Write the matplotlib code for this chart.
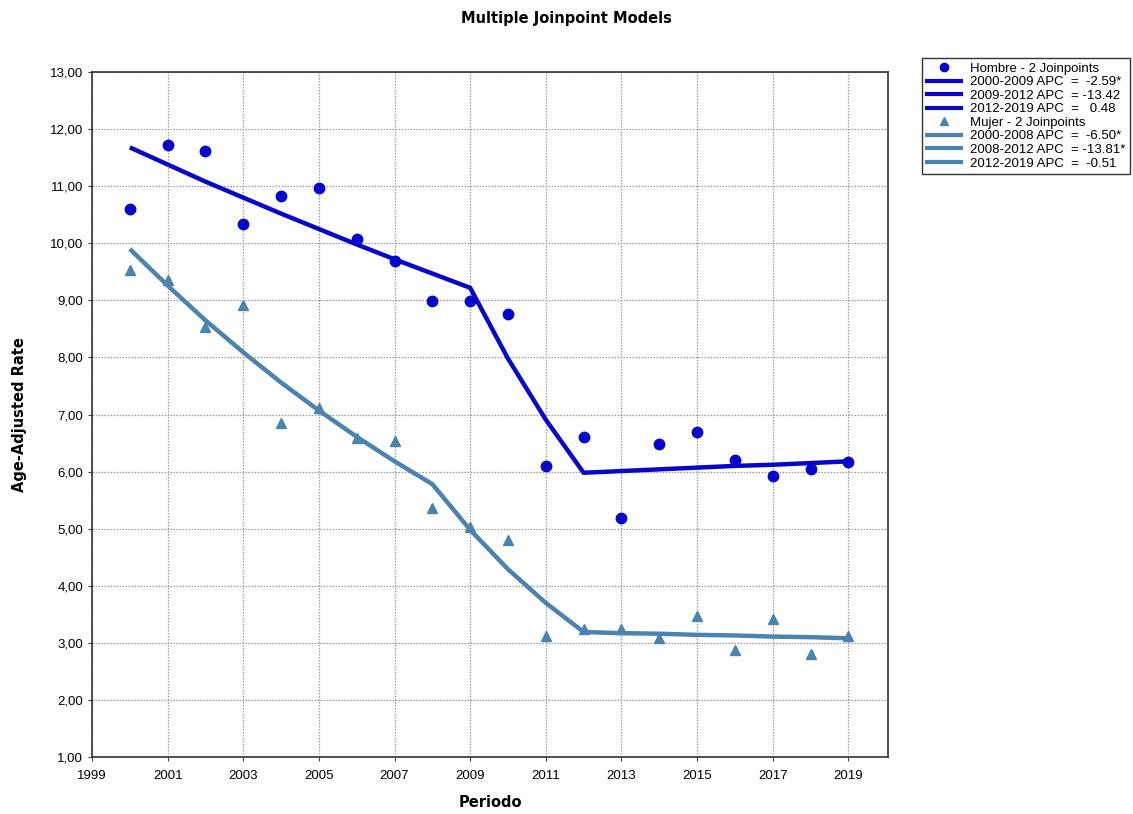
import numpy as np
from matplotlib import pyplot as plt
from matplotlib.lines import Line2D
from matplotlib.ticker import FuncFormatter

years = list(range(2000, 2020))

# observed age-adjusted rates
hombre_obs = [10.60, 11.73, 11.62, 10.34, 10.83, 10.97, 10.07, 9.69, 8.99, 8.99,
              8.76, 6.10, 6.61, 5.19, 6.48, 6.70, 6.20, 5.92, 6.05, 6.16]
mujer_obs = [9.53, 9.36, 8.53, 8.92, 6.86, 7.12, 6.59, 6.54, 5.36, 5.03,
             4.81, 3.12, 3.25, 3.25, 3.09, 3.47, 2.88, 3.42, 2.81, 3.12]

# joinpoint fitted values
hombre_fit = [11.68, 11.38, 11.08, 10.80, 10.52, 10.25, 9.98, 9.72, 9.47, 9.22,
              7.98, 6.91, 5.98, 6.01, 6.04, 6.07, 6.10, 6.12, 6.15, 6.18]
mujer_fit = [9.90, 9.26, 8.65, 8.09, 7.56, 7.07, 6.61, 6.18, 5.78, 4.98,
             4.29, 3.70, 3.19, 3.17, 3.16, 3.14, 3.13, 3.11, 3.10, 3.08]

hombre_labels = ["Hombre - 2 Joinpoints", "2000-2009 APC  =  -2.59*",
                 "2009-2012 APC  = -13.42", "2012-2019 APC  =   0.48"]
mujer_labels = ["Mujer - 2 Joinpoints", "2000-2008 APC  =  -6.50*",
                "2008-2012 APC  = -13.81*", "2012-2019 APC  =  -0.51"]

c_h = '#0606cc'
c_m = '#4a82b0'

plt.rcParams['font.family'] = ['Liberation Sans', 'DejaVu Sans']

fig = plt.figure(figsize=(11.33, 8.14), dpi=100)
ax = fig.add_axes([0.0812, 0.070, 0.7026, 0.8415])

ax.plot(years, hombre_fit, color=c_h, lw=3.2, solid_capstyle='butt', zorder=3)
ax.plot(years, mujer_fit, color=c_m, lw=3.2, solid_capstyle='butt', zorder=3)
ax.plot(years, hombre_obs, 'o', color=c_h, ms=7.5, ls='none', zorder=4)
ax.plot(years, mujer_obs, '^', color=c_m, ms=6.5, ls='none', zorder=4)

ax.set_xlim(1999, 2020.05)
ax.set_ylim(1, 13)
ax.set_xticks(range(1999, 2020, 2))
ax.set_yticks(range(1, 14))
ax.yaxis.set_major_formatter(FuncFormatter(lambda v, p: f"{v:.2f}".replace('.', ',')))
ax.tick_params(labelsize=9.5, length=3, color='#444444')
ax.tick_params(axis='x', pad=6)
ax.grid(True, ls=(0, (1.2, 1.2)), color='#999999', lw=0.9)
for s in ax.spines.values():
    s.set_color('#333333')
    s.set_linewidth(1.2)

ax.set_xlabel("Periodo", fontsize=10.5, fontweight='bold', family='DejaVu Sans', labelpad=10)
ax.set_ylabel("Age-Adjusted Rate", fontsize=10.5, fontweight='bold', family='DejaVu Sans', labelpad=16)
fig.text(0.5, 0.977, "Multiple Joinpoint Models", ha='center', va='center',
         fontsize=10.5, fontweight='bold', family='DejaVu Sans')

handles = [Line2D([], [], marker='o', color=c_h, ls='none', ms=6)]
handles += [Line2D([], [], color=c_h, lw=3) for _ in range(3)]
handles += [Line2D([], [], marker='^', color=c_m, ls='none', ms=6)]
handles += [Line2D([], [], color=c_m, lw=3) for _ in range(3)]
leg = fig.legend(handles, hombre_labels + mujer_labels, loc='upper left',
                 bbox_to_anchor=(0.814, 0.929), fontsize=9.5, frameon=True,
                 fancybox=False, edgecolor='black', handlelength=2.6,
                 handletextpad=0.7, labelspacing=0.1, borderpad=0.35,
                 borderaxespad=0)
leg.get_frame().set_linewidth(1.0)

fig.savefig('out.png', dpi=100)
